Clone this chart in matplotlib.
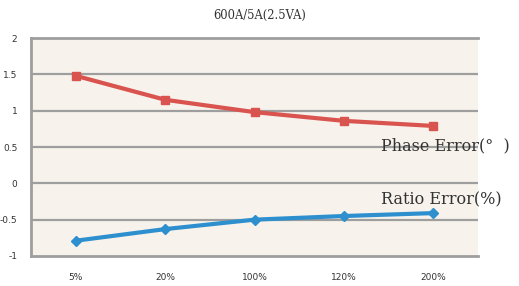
import matplotlib
matplotlib.use('Agg')
from matplotlib import pyplot as plt

categories = ['5%', '20%', '100%', '120%', '200%']
phase_error = [1.48, 1.15, 0.98, 0.86, 0.79]
ratio_error = [-0.79, -0.63, -0.50, -0.45, -0.41]
y_ticks = [-1, -0.5, 0, 0.5, 1, 1.5, 2]
y_labels = ['-1', '-0.5', '0', '0.5', '1', '1.5', '2']

fig = plt.figure(figsize=(5.19, 2.86), dpi=100)
fig.patch.set_facecolor('white')
ax = fig.add_axes([0.060, 0.105, 0.861, 0.762])
ax.set_facecolor('#f7f3ec')

x = list(range(len(categories)))
ax.plot(x, phase_error, color='#d9534f', lw=3, marker='s', ms=6, zorder=3)
ax.plot(x, ratio_error, color='#2e8fcf', lw=3, marker='D', ms=5, zorder=3)

ax.set_xlim(-0.5, 4.5)
ax.set_ylim(-1, 2)
ax.set_yticks(y_ticks)
ax.set_yticklabels(y_labels)
ax.set_xticks(x)
ax.set_xticklabels(categories)
ax.tick_params(length=0, labelsize=6.5, colors='#333333')
ax.tick_params(axis='x', pad=12)
ax.tick_params(axis='y', pad=10)
for y in y_ticks[1:-1]:
    ax.axhline(y, color='#9e9e9e', lw=1.6, zorder=1)

for side in ['left', 'top', 'bottom']:
    ax.spines[side].set_color('#9e9e9e')
    ax.spines[side].set_linewidth(2)
ax.spines['right'].set_visible(False)

# title and series labels
fig.text(0.5, 0.945, '600A/5A(2.5VA)', ha='center', va='center',
         family='DejaVu Serif', fontsize=8.3, color='#333333')
ax.text(3.41, 0.52, 'Phase Error(°  )', family='DejaVu Serif',
        fontsize=11.5, color='#333333', va='center', clip_on=False)
ax.text(3.41, -0.23, 'Ratio Error(%)', family='DejaVu Serif',
        fontsize=11.5, color='#333333', va='center', clip_on=False)

fig.savefig('out.png', dpi=100)
